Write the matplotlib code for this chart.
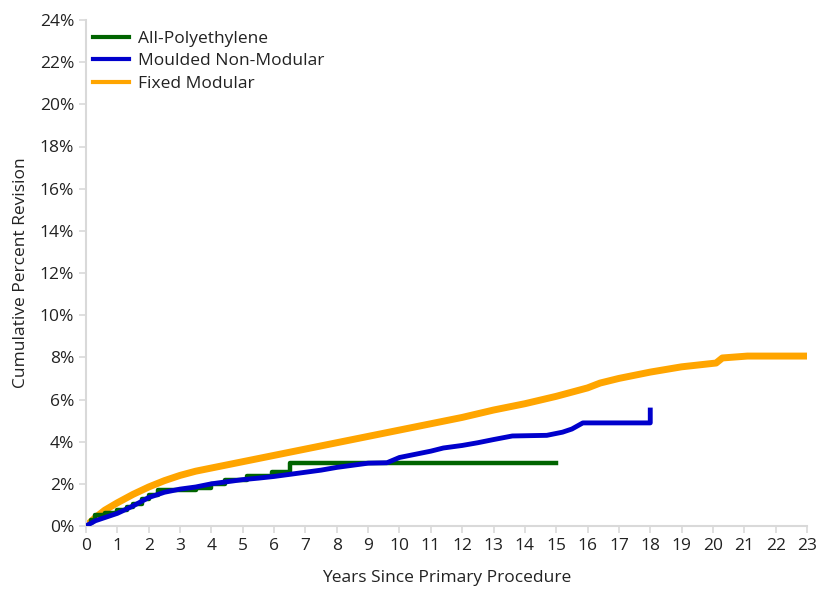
import matplotlib
matplotlib.use("Agg")
import matplotlib.pyplot as plt
from matplotlib.ticker import MultipleLocator, FuncFormatter

plt.rcParams['font.family'] = ['Open Sans', 'DejaVu Sans']

# cumulative percent revision
poly_x = [0, 0.15, 0.3, 0.6, 1.0, 1.3, 1.5, 1.8, 2.0, 2.3, 3.5, 4.0, 4.43, 5.13, 5.93, 6.5, 15.0]
poly_y = [0.0, 0.3, 0.5, 0.6, 0.75, 0.9, 1.05, 1.3, 1.45, 1.7, 1.8, 2.0, 2.2, 2.35, 2.58, 3.0, 3.0]

mould_x = [0, 0.3, 0.6, 1.0, 1.5, 2.0, 2.5, 3.0, 3.5, 4.0, 4.5, 5.0, 5.5, 6.0, 6.5, 7.0, 7.5, 8.0,
           8.5, 9.0, 9.6, 10.0, 10.5, 11.0, 11.4, 12.0, 12.5, 13.0, 13.6, 14.7, 15.2, 15.5, 15.85,
           18.0, 18.0]
mould_y = [0.0, 0.25, 0.4, 0.6, 0.95, 1.35, 1.6, 1.75, 1.85, 2.0, 2.1, 2.2, 2.27, 2.35, 2.45, 2.55,
           2.65, 2.78, 2.88, 2.98, 3.0, 3.25, 3.4, 3.55, 3.7, 3.82, 3.95, 4.1, 4.27, 4.3, 4.45,
           4.6, 4.89, 4.89, 5.5]

fixed_x = [0, 0.3, 0.6, 1.0, 1.5, 2.0, 2.5, 3.0, 3.5, 4.0, 5.0, 6.0, 7.0, 8.0, 9.0, 10.0, 11.0,
           12.0, 13.0, 14.0, 15.0, 16.0, 16.4, 17.0, 18.0, 19.0, 20.1, 20.3, 21.1, 23.0]
fixed_y = [0.0, 0.4, 0.75, 1.1, 1.5, 1.85, 2.15, 2.4, 2.6, 2.75, 3.05, 3.35, 3.65, 3.95, 4.25,
           4.55, 4.85, 5.15, 5.5, 5.8, 6.15, 6.55, 6.78, 7.0, 7.3, 7.55, 7.73, 7.97, 8.06, 8.06]

fig = plt.figure(figsize=(8.17, 5.89), dpi=100)
ax = fig.add_axes([86 / 817, 1 - 526 / 589, (807 - 86) / 817, (526 - 20) / 589])

ax.plot(poly_x, poly_y, color='#006400', lw=3.2, drawstyle='steps-post', label='All-Polyethylene', zorder=2)
ax.plot(mould_x, mould_y, color='#0000CC', lw=3.5, label='Moulded Non-Modular', zorder=3)
ax.plot(fixed_x, fixed_y, color='#FFA500', lw=5, label='Fixed Modular', zorder=1)

ax.set_xlim(0, 23)
ax.set_ylim(0, 24)
ax.xaxis.set_major_locator(MultipleLocator(1))
ax.yaxis.set_major_locator(MultipleLocator(2))
ax.yaxis.set_major_formatter(FuncFormatter(lambda v, p: f"{v:.0f}%"))

for s in ['top', 'right']:
    ax.spines[s].set_visible(False)
for s in ['left', 'bottom']:
    ax.spines[s].set_color('#d9d9d9')
    ax.spines[s].set_linewidth(1.5)
ax.tick_params(colors='#d9d9d9', labelcolor='#222222', labelsize=12.5, length=5, width=1.2)

ax.set_xlabel('Years Since Primary Procedure', fontsize=12.5, color='#222222', labelpad=12)
ax.set_ylabel('Cumulative Percent Revision', fontsize=12.5, color='#222222', labelpad=8)

leg = ax.legend(loc='upper left', frameon=False, fontsize=12.5, handlelength=2.1,
                handletextpad=0.5, borderaxespad=0.0, labelspacing=0.37,
                bbox_to_anchor=(0.0, 0.993))
for t in leg.get_texts():
    t.set_color('#222222')
for h in leg.get_lines():
    h.set_linewidth(3)

fig.savefig('out.png', dpi=100)
